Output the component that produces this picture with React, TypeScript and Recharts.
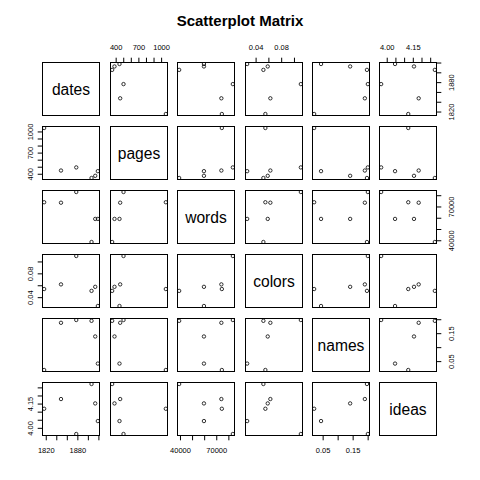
import React from 'react';
import { ScatterChart, Scatter, XAxis, YAxis } from 'recharts';

// one value per observation, same order in every array
const dates = [1816, 1848, 1877, 1906, 1913, 1918];
const pages = [1056, 453, 497, 347, 378, 444];
const words = [74200, 73800, 83300, 38900, 59400, 59400];
const colors = [0.0545, 0.0623, 0.11, 0.0514, 0.0582, 0.026];
const names = [0.02, 0.189, 0.199, 0.196, 0.14, 0.043];
const ideas = [4.121, 4.181, 3.965, 4.274, 4.154, 4.045];

const varNames = ['dates', 'pages', 'words', 'colors', 'names', 'ideas'];
const varValues = [dates, pages, words, colors, names, ideas];

const datesTicks = [1820, 1840, 1860, 1880, 1900, 1920];
const pagesTicks = [400, 500, 600, 700, 800, 900, 1000];
const wordsTicks = [40000, 50000, 60000, 70000, 80000];
const colorsTicks = [0.04, 0.06, 0.08, 0.1];
const namesTicks = [0.05, 0.1, 0.15, 0.2];
const ideasTicks = [4.0, 4.05, 4.1, 4.15, 4.2, 4.25];

const datesLabels = [1820, 1880];
const pagesLabels = [400, 700, 1000];
const wordsLabels = [40000, 70000];
const colorsLabels = [0.04, 0.08];
const namesLabels = [0.05, 0.15];
const ideasLabels = [4.0, 4.15];

const allTicks = [datesTicks, pagesTicks, wordsTicks, colorsTicks, namesTicks, ideasTicks];
const allLabels = [datesLabels, pagesLabels, wordsLabels, colorsLabels, namesLabels, ideasLabels];
const decimals = [0, 0, 0, 2, 2, 2];

const FONT = '"Liberation Sans", Arial, sans-serif';
const W = 58;
const H = 54;
const PAD = 32;
const AX = 30;

const colLeft = (c: number) => Math.round(42.3 + c * 67.4);
const rowTop = (r: number) => Math.round(61.7 + r * 64.1);

// R style 4% padding on each side
const domainOf = (vals: number[]): [number, number] => {
  const lo = Math.min(...vals);
  const hi = Math.max(...vals);
  const d = (hi - lo) * 0.04;
  return [lo - d, hi + d];
};

const Dot = (props: any) => (
  <circle cx={props.cx} cy={props.cy} r={1.7} fill="none" stroke="#000" strokeWidth={0.8} />
);

const makeTick = (v: number, rotate: boolean) => (props: any) => {
  const { x, y, payload } = props;
  const value = payload.value;
  const show = allLabels[v].some((l) => Math.abs(l - value) < 1e-9);
  if (!show) return <g />;
  return (
    <text
      x={x}
      y={y}
      textAnchor="middle"
      dominantBaseline="central"
      fontSize={7.5}
      fontFamily={FONT}
      fill="#000"
      transform={rotate ? `rotate(-90, ${x}, ${y})` : undefined}
    >
      {value.toFixed(decimals[v])}
    </text>
  );
};

function Panel({ r, c }: { r: number; c: number }) {
  const xTop = r === 0 && c % 2 === 1;
  const xBottom = r === 5 && c % 2 === 0;
  const yLeft = c === 0 && r % 2 === 1;
  const yRight = c === 5 && r % 2 === 0;
  const data = dates.map((_, i) => ({ x: varValues[c][i], y: varValues[r][i] }));
  const left = colLeft(c);
  const top = rowTop(r);
  return (
    <>
      <div style={{ position: 'absolute', left: left - PAD, top: top - PAD }}>
        <ScatterChart
          width={W + 2 * PAD}
          height={H + 2 * PAD}
          margin={{
            top: PAD - (xTop ? AX : 0),
            bottom: PAD - (xBottom ? AX : 0),
            left: PAD - (yLeft ? AX : 0),
            right: PAD - (yRight ? AX : 0),
          }}
        >
          <XAxis
            dataKey="x"
            type="number"
            domain={domainOf(varValues[c])}
            allowDataOverflow
            ticks={allTicks[c]}
            interval={0}
            orientation={xTop ? 'top' : 'bottom'}
            hide={!(xTop || xBottom)}
            height={AX}
            axisLine={false}
            tickLine={{ stroke: '#000' }}
            tickSize={4.3}
            tickMargin={10.2}
            tick={makeTick(c, false)}
          />
          <YAxis
            dataKey="y"
            type="number"
            domain={domainOf(varValues[r])}
            allowDataOverflow
            ticks={allTicks[r]}
            interval={0}
            orientation={yRight ? 'right' : 'left'}
            hide={!(yLeft || yRight)}
            width={AX}
            axisLine={false}
            tickLine={{ stroke: '#000' }}
            tickSize={4.3}
            tickMargin={yRight ? 10 : 7.3}
            tick={makeTick(r, true)}
          />
          <Scatter data={data} shape={<Dot />} isAnimationActive={false} />
        </ScatterChart>
      </div>
      <div
        style={{
          position: 'absolute',
          left,
          top,
          width: W,
          height: H,
          border: '1px solid #000',
          boxSizing: 'border-box',
          pointerEvents: 'none',
        }}
      />
    </>
  );
}

function Label({ i }: { i: number }) {
  return (
    <div
      style={{
        position: 'absolute',
        left: colLeft(i),
        top: rowTop(i),
        width: W,
        height: H,
        border: '1px solid #000',
        boxSizing: 'border-box',
        display: 'flex',
        alignItems: 'center',
        justifyContent: 'center',
        fontFamily: FONT,
        fontSize: 15.6,
        paddingTop: 2,
      }}
    >
      {varNames[i]}
    </div>
  );
}

export default function App() {
  const cells: React.ReactNode[] = [];
  for (let r = 0; r < 6; r++) {
    for (let c = 0; c < 6; c++) {
      cells.push(r === c ? <Label key={`${r}-${c}`} i={r} /> : <Panel key={`${r}-${c}`} r={r} c={c} />);
    }
  }
  return (
    <div style={{ position: 'fixed', left: 0, top: 0, width: 480, height: 480, background: '#fff' }}>
      <div
        style={{
          position: 'absolute',
          left: 0,
          top: 13,
          width: 480,
          textAlign: 'center',
          fontFamily: FONT,
          fontWeight: 'bold',
          fontSize: 15,
          lineHeight: '15px',
        }}
      >
        Scatterplot Matrix
      </div>
      {cells}
    </div>
  );
}
